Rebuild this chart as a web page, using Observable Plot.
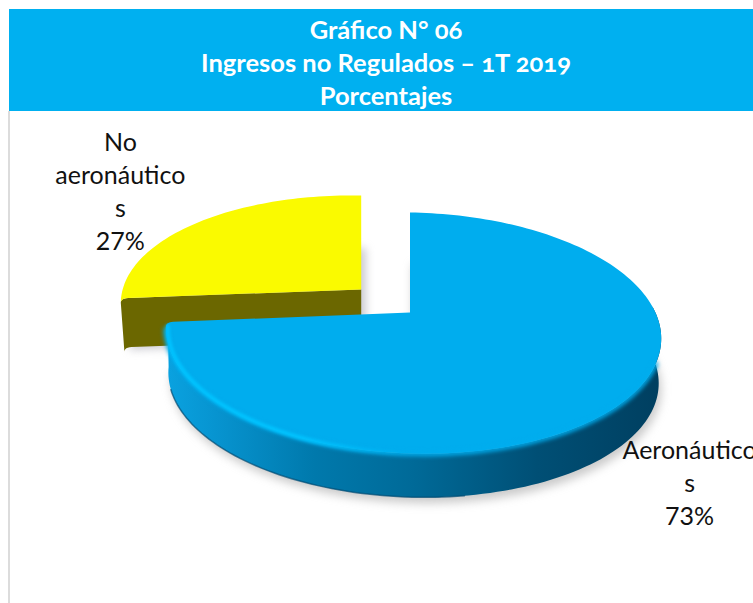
<!DOCTYPE html>
<html><head><meta charset="utf-8">
<script src="https://cdn.jsdelivr.net/npm/d3@7"></script>
<script src="https://cdn.jsdelivr.net/npm/@observablehq/plot@0.6"></script>
<style>
html,body{margin:0;padding:0;background:#fff;overflow:hidden}
#wrap{position:relative;width:753px;height:603px}
#head{position:absolute;left:9px;top:9px;width:744px;height:102px;background:#00b0f0;color:#fff;
 font:700 25.5px/33px Lato,sans-serif;text-align:center;font-feature-settings:"onum";padding-top:4px;box-sizing:border-box;padding-left:10px}
#chart{position:absolute;left:0;top:111px}
#edge{position:absolute;left:8px;top:111px;width:2px;height:492px;background:#dcdcdc}
</style></head><body>
<div id="wrap">
<div id="head"><div>Gráfico N° 06</div><div>Ingresos no Regulados – 1T 2019</div><div>Porcentajes</div></div>
<div id="edge"></div>
<div id="chart"></div>
</div>
<script>
const categories = ["Aeronáuticos", "No aeronáuticos"];
const shares = [73, 27];
const wrappedLabels = ["Aeronáutico\ns", "No\naeronáutico\ns"];

// Perspective disc in unit coordinates: the pie's hub is (0,0), radius is 1.
const K = 0.17, KX = 0.0142, SHEAR = 0.021, YPX = 117, XPX = 244, W = 753, H = 492;
const HUB_X = 409.5, HUB_Y = 201;
function project(frac, radius, o) {
  const a = 2 * Math.PI * frac;
  const u = Math.sin(a) * radius, v = -Math.cos(a) * radius;
  const d = 1 - K * v - KX * u;
  const x = u / d * o.scale;
  const y = v / d * (o.sy ?? o.scale) + SHEAR * x * (XPX / YPX);
  return {x: x + o.dx, y: y + o.dy};
}
function arc(f0, f1, o) {
  const n = Math.max(2, Math.ceil(Math.abs(f1 - f0) * 240));
  return d3.range(n + 1).map(i => project(f0 + (f1 - f0) * i / n, 1, o));
}
const total = d3.sum(shares);
const bFrac = shares[0] / total;
const DEPTH = 0.385;
const blue = {dx: 0, dy: 0, scale: 1};
const yellow = {dx: -0.2, dy: -0.197, scale: 0.985, sy: 0.94};
const shift = (o, dx, dy, s = 1) => ({dx: o.dx + dx, dy: o.dy + dy, scale: o.scale * s, sy: (o.sy ?? o.scale) * s});
const hub = o => ({x: o.dx, y: o.dy});
const lerp = (a, b, t) => ({x: a.x + (b.x - a.x) * t, y: a.y + (b.y - a.y) * t});
// The slice's outer corner is softened: arc stops short, then joins the straight edge.
const CUT = 0.006;
const softCorner = (o) => {
  const end = project(bFrac, 1, o), h = hub(o);
  const a = project(bFrac - CUT, 1, o), b = lerp(end, h, 0.03);
  return d3.range(0, 7).map(i => {
    const t = i / 6, p = lerp(a, end, t), q = lerp(end, b, t);
    return lerp(p, q, t);
  });
};

const topBlue = [hub(blue), ...arc(0, bFrac - CUT, blue), ...softCorner(blue)];
const topYellow = [hub(yellow), ...softCorner(yellow).reverse(), ...arc(bFrac + 0.001, 1, yellow)];
const bDown = shift(blue, 0, DEPTH, 0.99);
const sideBlue = [...arc(0.235, bFrac - CUT, blue), ...softCorner(blue).slice(0, 4), ...arc(bFrac, 0.235, bDown)];
const yDown = shift(yellow, 0, 0.42, 0.985);
const sideYellow = [hub(yellow), ...softCorner(yellow).reverse(), ...softCorner(yDown), hub(yDown)];
const rimBlue = arc(0.31, bFrac - 0.01, blue);
const glowBlue = arc(0.5, bFrac - 0.004, shift(blue, 0, 0.01, 0.992));
const edgeBlue = arc(0.47, bFrac - 0.03, bDown);
const shadowBlue = [hub(shift(bDown, 0.01, 0.05)), ...arc(0, bFrac, shift(bDown, 0.01, 0.05))];
const shadowYellow = [hub(shift(yDown, 0.02, 0.02)), ...arc(bFrac, 1, shift(yDown, 0.02, 0.02))];

const labelRows = [
  {x: 1.146, y: 1.44, text: wrappedLabels[0] + "\n" + shares[0] + "%"},
  {x: -1.187, y: -1.05, text: wrappedLabels[1] + "\n" + shares[1] + "%"}
];

const defs = () => {
  const s = d3.create("svg:defs");
  const g = s.append("linearGradient").attr("id", "sideG");
  [[0,"#0aa2e0"],[0.1,"#0794d0"],[0.3,"#0079ac"],[0.5,"#006a98"],[0.75,"#004f75"],[1,"#003f60"]]
    .forEach(([o,c]) => g.append("stop").attr("offset", o).attr("stop-color", c));
  const r = s.append("linearGradient").attr("id", "glowG");
  [[0,"#00c4ff",1],[0.55,"#00c4ff",1],[1,"#00c4ff",0]]
    .forEach(([o,c,a]) => r.append("stop").attr("offset", o).attr("stop-color", c).attr("stop-opacity", a));
  return s.node();
};

const line = (d, fill, extra = {}) => Plot.line(d, {x: "x", y: "y", fill, stroke: "none", ...extra});

const plot = Plot.plot({
  width: W, height: H,
  margin: 0,
  style: {background: "transparent", overflow: "visible"},
  x: {domain: [-HUB_X / XPX, (W - HUB_X) / XPX], range: [0, W], axis: null},
  y: {domain: [-HUB_Y / YPX, (H - HUB_Y) / YPX], range: [0, H], axis: null},
  marks: [
    defs,
    line(shadowYellow, "#9a9aa5", {imageFilter: "blur(4px)", fillOpacity: 0.5}),
    line(shadowBlue, "#8a8a8a", {imageFilter: "blur(5px)", fillOpacity: 0.45}),
    line(sideYellow, "#6b6700"),
    line(topYellow, "#fafa00"),
    line(sideBlue, "url(#sideG)"),
    Plot.line(edgeBlue, {x: "x", y: "y", stroke: "#004c74", strokeWidth: 1.5, strokeOpacity: 0.7, imageFilter: "blur(0.7px)"}),
    line(topBlue, "#00adee"),
    Plot.line(rimBlue, {x: "x", y: "y", stroke: "#00adee", strokeWidth: 5, imageFilter: "blur(2px)"}),
    Plot.line(glowBlue, {x: "x", y: "y", stroke: "url(#glowG)", strokeWidth: 4, imageFilter: "blur(1.5px)"}),
    Plot.text(labelRows, {x: "x", y: "y", text: "text", fontSize: 25, lineHeight: 1.32,
      fontFamily: "Lato, sans-serif", fill: "#111", textAnchor: "middle"})
  ]
});
document.getElementById("chart").append(plot);
</script>
</body></html>
